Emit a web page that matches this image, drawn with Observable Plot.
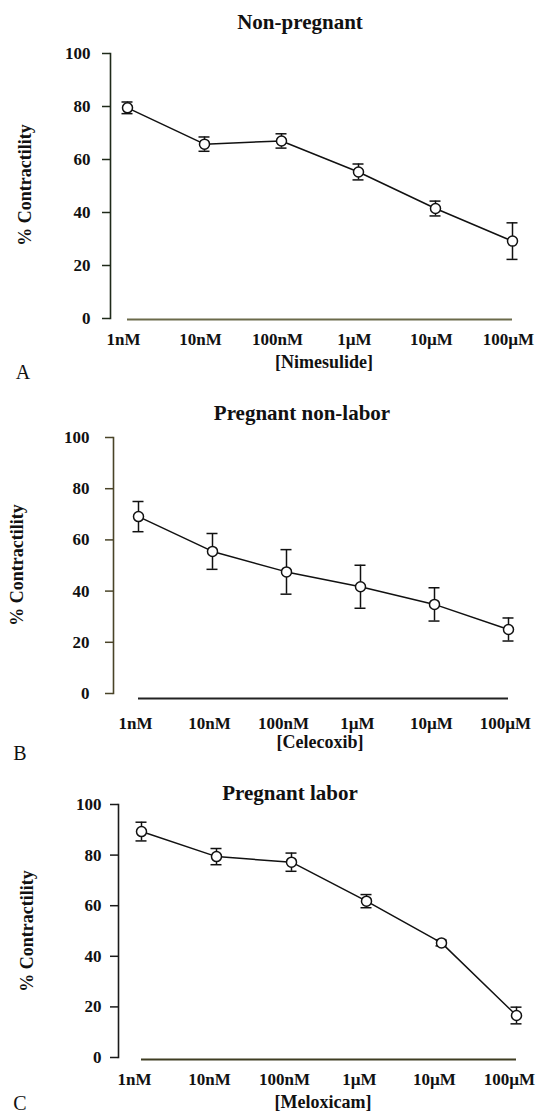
<!DOCTYPE html>
<html>
<head>
<meta charset="utf-8">
<script src="https://cdn.jsdelivr.net/npm/d3@7"></script>
<script src="https://cdn.jsdelivr.net/npm/@observablehq/plot@0.6"></script>
<style>
  body { margin: 0; background: #fff; }
  #wrap { position: relative; width: 538px; height: 1115px; overflow: hidden;
          font-family: "Liberation Serif", "Times New Roman", serif; color: #111; }
  .abs { position: absolute; white-space: nowrap; line-height: 1; }
  .title { font-weight: bold; font-size: 21px; transform: translate(-50%, -50%); }
  .xlab { font-weight: bold; font-size: 18px; transform: translate(-50%, -50%); }
  .ylab { font-weight: bold; font-size: 18px; transform: translate(-50%, -50%) rotate(-90deg); }
  .letter { font-size: 20px; transform: translate(-50%, -50%); }
  .panel { position: absolute; left: 0; }
</style>
</head>
<body>
<div id="wrap"></div>
<script>
// ---- data ----
const doses = ["1nM", "10nM", "100nM", "1µM", "10µM", "100µM"];
const yTicks = [0, 20, 40, 60, 80, 100];
const titles = ["Non-pregnant", "Pregnant non-labor", "Pregnant labor"];
const drugs = ["[Nimesulide]", "[Celecoxib]", "[Meloxicam]"];
const letters = ["A", "B", "C"];
const yLabel = "%  Contractility";

const nonPregnantMean = [79.5, 65.8, 67.0, 55.3, 41.5, 29.2];
const nonPregnantSem  = [2.2, 2.7, 2.7, 3.0, 2.8, 6.9];
const nonLaborMean    = [69.1, 55.5, 47.5, 41.7, 34.8, 25.0];
const nonLaborSem     = [5.9, 7.0, 8.7, 8.4, 6.5, 4.5];
const laborMean       = [89.3, 79.4, 77.2, 61.8, 45.3, 16.6];
const laborSem        = [3.7, 3.2, 3.6, 2.6, 1.2, 3.3];

// ---- layout ----
const layouts = [
  {top: 0,   mt: 53, y0: 318, ml: 110, il: 16, mr: 26, tpy: 12, tpx: 14, tdx: -4, ady: 1, yc: "#1f2a1a", xc: "#6b6a4a",
   title: [300, 22], xlab: [324, 362], letter: [23, 372], ylab: [25, 185]},
  {top: 380, mt: 57, y0: 693, ml: 113, il: 23, mr: 28, tpy: 16, tpx: 23, tdx: -3, ady: 5, yc: "#4a4428", xc: "#222",
   title: [302, 413], xlab: [320, 742], letter: [20, 753], ylab: [17, 565]},
  {top: 760, mt: 44, y0: 1057, ml: 118, il: 22, mr: 21, tpy: 9, tpx: 15, tdx: -7, ady: 2, yc: "#1a1a1a", xc: "#3f3d22",
   title: [290, 793], xlab: [323, 1102], letter: [20, 1103], ylab: [27, 931]}
];
const series = [[nonPregnantMean, nonPregnantSem], [nonLaborMean, nonLaborSem], [laborMean, laborSem]];

const wrap = document.getElementById("wrap");
function addText(cls, txt, [x, y]) {
  const d = document.createElement("div");
  d.className = "abs " + cls;
  d.textContent = txt;
  d.style.left = x + "px";
  d.style.top = y + "px";
  wrap.appendChild(d);
}

layouts.forEach((p, k) => {
  const [mean, sem] = series[k];
  const rows = doses.map((d, i) => ({dose: d, mean: mean[i], lo: mean[i] - sem[i], hi: mean[i] + sem[i]}));
  const frameBottom = p.y0 - p.top;
  const height = frameBottom + 40;
  const ink = "#111";
  const cap = {x1: "dose", x2: "dose", insetLeft: -5.5, insetRight: -5.5, stroke: ink, strokeWidth: 1.5};
  const chart = Plot.plot({
    width: 538,
    height,
    marginTop: p.mt,
    marginBottom: height - frameBottom,
    marginLeft: p.ml,
    marginRight: p.mr,
    insetLeft: p.il,
    style: {fontFamily: '"Liberation Serif", "Times New Roman", serif', fontSize: "17px", fontWeight: "bold",
            background: "transparent", color: ink, overflow: "visible"},
    x: {type: "point", domain: doses, padding: 0},
    y: {domain: [0, 100]},
    marks: [
      Plot.frame({anchor: "left", stroke: p.yc, strokeWidth: 1.6}),
      Plot.axisY({ticks: yTicks, tickSize: 8, tickPadding: p.tpy, label: null, stroke: p.yc, strokeWidth: 1.5,
                  fontWeight: "bold", fontSize: 17, fill: ink}),
      Plot.axisX({tickSize: 0, tickPadding: p.tpx, dx: p.tdx, label: null, fontWeight: "bold", fontSize: 17, fill: ink}),
      Plot.ruleY([0], {x1: () => doses[0], x2: () => doses[doses.length - 1], dy: p.ady,
                       stroke: p.xc, strokeWidth: 2.2}),
      Plot.line(rows, {x: "dose", y: "mean", stroke: ink, strokeWidth: 1.5}),
      Plot.ruleX(rows, {x: "dose", y1: "lo", y2: "hi", stroke: ink, strokeWidth: 1.5}),
      Plot.ruleY(rows, {y: "lo", ...cap}),
      Plot.ruleY(rows, {y: "hi", ...cap}),
      Plot.dot(rows, {x: "dose", y: "mean", r: 5, fill: "white", stroke: ink, strokeWidth: 1.5})
    ]
  });
  chart.classList.add("panel");
  chart.style.top = p.top + "px";
  wrap.appendChild(chart);

  addText("title", titles[k], p.title);
  addText("xlab", drugs[k], p.xlab);
  addText("letter", letters[k], p.letter);
  addText("ylab", yLabel, p.ylab);
});
</script>
</body>
</html>
